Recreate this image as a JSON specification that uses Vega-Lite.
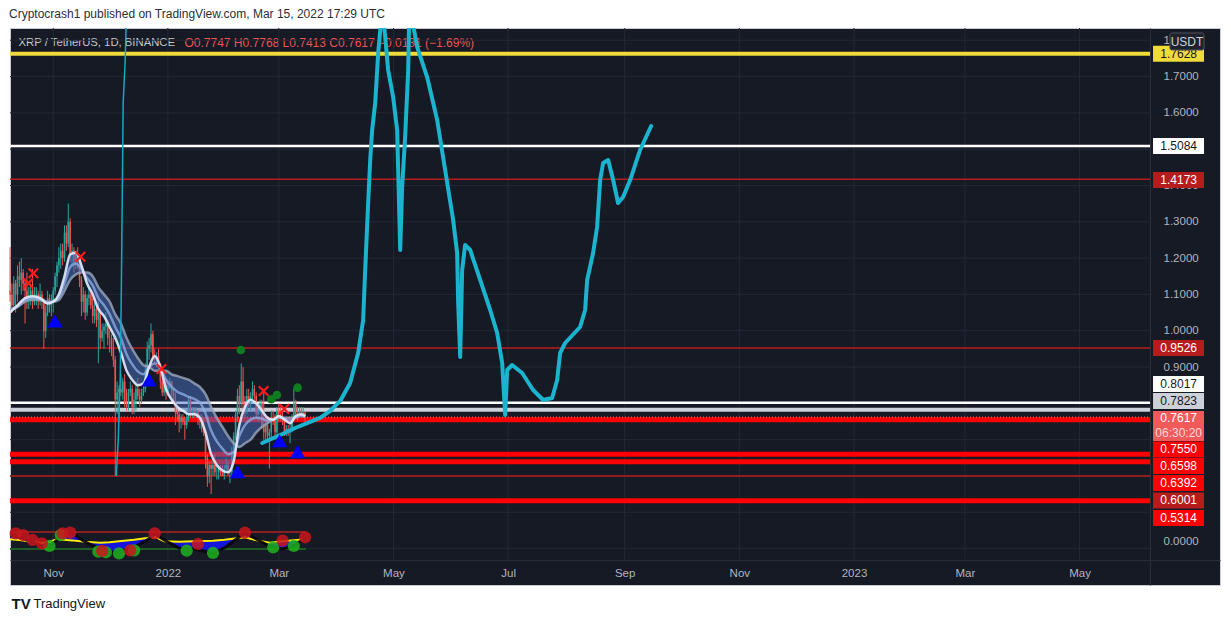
{
"$schema": "https://vega.github.io/schema/vega-lite/v6.json",
"width": 1210,
"height": 557,
"autosize": {"type": "none"},
"padding": {"left": 10, "top": 28, "right": 11, "bottom": 36},
"background": "#ffffff",
"title": {"text": "Cryptocrash1 published on TradingView.com, Mar 15, 2022 17:29 UTC", "anchor": "start", "frame": "group", "offset": 7, "dx": -1, "fontSize": 12, "fontWeight": "normal", "color": "#2a2e39", "font": "Liberation Sans"},
"config": {
  "view": {"fill": "#161a25", "stroke": "#c9ccd3", "strokeWidth": 1},
  "axis": {"grid": false, "labelFont": "Liberation Sans", "titleFont": "Liberation Sans"},
  "text": {"font": "Liberation Sans"},
  "scale": {"continuousPadding": 0}
},
"datasets": {
  "gridx": [
    {"d": "2021-11-01"}, {"d": "2022-01-01"}, {"d": "2022-03-01"}, {"d": "2022-05-01"}, {"d": "2022-07-01"},
    {"d": "2022-09-01"}, {"d": "2022-11-01"}, {"d": "2023-01-01"}, {"d": "2023-03-01"}, {"d": "2023-05-01"}
  ],
  "gridy": [
    {"p": 0.4}, {"p": 0.5}, {"p": 0.6}, {"p": 0.7}, {"p": 0.8}, {"p": 0.9}, {"p": 1.0}, {"p": 1.1},
    {"p": 1.2}, {"p": 1.3}, {"p": 1.4}, {"p": 1.5}, {"p": 1.6}, {"p": 1.7}, {"p": 1.8}
  ],
  "levels": [
    {"p": 1.7628, "kind": "yellow"}, {"p": 1.5084, "kind": "white"}, {"p": 1.4173, "kind": "darkred"},
    {"p": 0.9526, "kind": "darkred"}, {"p": 0.8017, "kind": "white"}, {"p": 0.7823, "kind": "grey"},
    {"p": 0.7550, "kind": "red"}, {"p": 0.6598, "kind": "red"}, {"p": 0.6392, "kind": "red"},
    {"p": 0.6001, "kind": "darkred"}, {"p": 0.5314, "kind": "red"}, {"p": 0.7617, "kind": "price"}
  ],
  "tags": [
    {"label": "1.7628", "tag": 1.7628, "kind": "yellow"},
    {"label": "1.5084", "tag": 1.5084, "kind": "white"},
    {"label": "1.4173", "tag": 1.4150, "kind": "darkred"},
    {"label": "0.9526", "tag": 0.9526, "kind": "darkred"},
    {"label": "0.8017", "tag": 0.8532, "kind": "white"},
    {"label": "0.7823", "tag": 0.8064, "kind": "grey"},
    {"label": "", "tag": 0.7375, "kind": "price"},
    {"label": "0.7550", "tag": 0.6728, "kind": "red"},
    {"label": "0.6598", "tag": 0.6274, "kind": "red"},
    {"label": "0.6392", "tag": 0.5806, "kind": "red"},
    {"label": "0.6001", "tag": 0.5324, "kind": "darkred"},
    {"label": "0.5314", "tag": 0.4842, "kind": "red"}
  ],
  "pricetag": [{"label": "0.7617", "p": 0.7597, "k": "price"}, {"label": "06:30:20", "p": 0.7182, "k": "timer"}],
  "badge": [{"label": "USDT", "p": 1.7965}],
  "candles": [
    {"d":"2021-10-09","o":1.11,"h":1.23,"l":1.08,"c":1.10},
    {"d":"2021-10-10","o":1.10,"h":1.13,"l":1.05,"c":1.07},
    {"d":"2021-10-11","o":1.07,"h":1.15,"l":1.06,"c":1.13},
    {"d":"2021-10-12","o":1.13,"h":1.14,"l":1.05,"c":1.10},
    {"d":"2021-10-13","o":1.10,"h":1.18,"l":1.08,"c":1.15},
    {"d":"2021-10-14","o":1.15,"h":1.19,"l":1.12,"c":1.14},
    {"d":"2021-10-15","o":1.14,"h":1.20,"l":1.10,"c":1.16},
    {"d":"2021-10-16","o":1.16,"h":1.17,"l":1.11,"c":1.13},
    {"d":"2021-10-17","o":1.13,"h":1.14,"l":1.02,"c":1.11},
    {"d":"2021-10-18","o":1.11,"h":1.16,"l":1.06,"c":1.09},
    {"d":"2021-10-19","o":1.09,"h":1.12,"l":1.06,"c":1.09},
    {"d":"2021-10-20","o":1.09,"h":1.13,"l":1.07,"c":1.11},
    {"d":"2021-10-21","o":1.11,"h":1.17,"l":1.06,"c":1.08},
    {"d":"2021-10-22","o":1.08,"h":1.12,"l":1.07,"c":1.09},
    {"d":"2021-10-23","o":1.09,"h":1.12,"l":1.07,"c":1.10},
    {"d":"2021-10-24","o":1.10,"h":1.11,"l":1.06,"c":1.08},
    {"d":"2021-10-25","o":1.08,"h":1.13,"l":1.07,"c":1.10},
    {"d":"2021-10-26","o":1.10,"h":1.11,"l":1.06,"c":1.08},
    {"d":"2021-10-27","o":1.08,"h":1.09,"l":0.95,"c":1.00},
    {"d":"2021-10-28","o":1.00,"h":1.07,"l":0.98,"c":1.05},
    {"d":"2021-10-29","o":1.05,"h":1.11,"l":1.04,"c":1.09},
    {"d":"2021-10-30","o":1.09,"h":1.10,"l":1.05,"c":1.07},
    {"d":"2021-10-31","o":1.07,"h":1.10,"l":1.04,"c":1.08},
    {"d":"2021-11-01","o":1.08,"h":1.12,"l":1.05,"c":1.11},
    {"d":"2021-11-02","o":1.11,"h":1.16,"l":1.10,"c":1.15},
    {"d":"2021-11-03","o":1.15,"h":1.19,"l":1.12,"c":1.18},
    {"d":"2021-11-04","o":1.18,"h":1.23,"l":1.16,"c":1.20},
    {"d":"2021-11-05","o":1.20,"h":1.24,"l":1.17,"c":1.22},
    {"d":"2021-11-06","o":1.22,"h":1.24,"l":1.18,"c":1.20},
    {"d":"2021-11-07","o":1.20,"h":1.29,"l":1.19,"c":1.27},
    {"d":"2021-11-08","o":1.27,"h":1.29,"l":1.22,"c":1.24},
    {"d":"2021-11-09","o":1.24,"h":1.35,"l":1.23,"c":1.30},
    {"d":"2021-11-10","o":1.30,"h":1.31,"l":1.19,"c":1.21},
    {"d":"2021-11-11","o":1.21,"h":1.24,"l":1.18,"c":1.22},
    {"d":"2021-11-12","o":1.22,"h":1.23,"l":1.16,"c":1.19},
    {"d":"2021-11-13","o":1.19,"h":1.22,"l":1.17,"c":1.21},
    {"d":"2021-11-14","o":1.21,"h":1.23,"l":1.17,"c":1.20},
    {"d":"2021-11-15","o":1.20,"h":1.21,"l":1.12,"c":1.14},
    {"d":"2021-11-16","o":1.14,"h":1.15,"l":1.04,"c":1.08},
    {"d":"2021-11-17","o":1.08,"h":1.12,"l":1.05,"c":1.10},
    {"d":"2021-11-18","o":1.10,"h":1.11,"l":1.03,"c":1.05},
    {"d":"2021-11-19","o":1.05,"h":1.10,"l":1.04,"c":1.09},
    {"d":"2021-11-20","o":1.09,"h":1.12,"l":1.07,"c":1.10},
    {"d":"2021-11-21","o":1.10,"h":1.11,"l":1.06,"c":1.07},
    {"d":"2021-11-22","o":1.07,"h":1.09,"l":1.02,"c":1.04},
    {"d":"2021-11-23","o":1.04,"h":1.08,"l":1.02,"c":1.06},
    {"d":"2021-11-24","o":1.06,"h":1.07,"l":1.01,"c":1.03},
    {"d":"2021-11-25","o":1.03,"h":1.08,"l":0.91,"c":1.05},
    {"d":"2021-11-26","o":1.05,"h":1.06,"l":0.95,"c":0.98},
    {"d":"2021-11-27","o":0.98,"h":1.02,"l":0.97,"c":1.00},
    {"d":"2021-11-28","o":1.00,"h":1.02,"l":0.95,"c":1.01},
    {"d":"2021-11-29","o":1.01,"h":1.05,"l":0.99,"c":1.02},
    {"d":"2021-11-30","o":1.02,"h":1.03,"l":0.96,"c":0.98},
    {"d":"2021-12-01","o":0.98,"h":1.00,"l":0.94,"c":0.98},
    {"d":"2021-12-02","o":0.98,"h":0.99,"l":0.93,"c":0.95},
    {"d":"2021-12-03","o":0.95,"h":0.98,"l":0.90,"c":0.92},
    {"d":"2021-12-04","o":0.92,"h":0.93,"l":0.60,"c":0.81},
    {"d":"2021-12-05","o":0.81,"h":0.86,"l":0.77,"c":0.83},
    {"d":"2021-12-06","o":0.83,"h":0.85,"l":0.76,"c":0.84},
    {"d":"2021-12-07","o":0.84,"h":0.88,"l":0.82,"c":0.83},
    {"d":"2021-12-08","o":0.83,"h":0.87,"l":0.81,"c":0.86},
    {"d":"2021-12-09","o":0.86,"h":0.88,"l":0.79,"c":0.80},
    {"d":"2021-12-10","o":0.80,"h":0.84,"l":0.78,"c":0.79},
    {"d":"2021-12-11","o":0.79,"h":0.84,"l":0.78,"c":0.83},
    {"d":"2021-12-12","o":0.83,"h":0.86,"l":0.82,"c":0.84},
    {"d":"2021-12-13","o":0.84,"h":0.85,"l":0.77,"c":0.79},
    {"d":"2021-12-14","o":0.79,"h":0.83,"l":0.77,"c":0.81},
    {"d":"2021-12-15","o":0.81,"h":0.86,"l":0.78,"c":0.84},
    {"d":"2021-12-16","o":0.84,"h":0.87,"l":0.81,"c":0.82},
    {"d":"2021-12-17","o":0.82,"h":0.84,"l":0.79,"c":0.81},
    {"d":"2021-12-18","o":0.81,"h":0.84,"l":0.80,"c":0.83},
    {"d":"2021-12-19","o":0.83,"h":0.86,"l":0.82,"c":0.84},
    {"d":"2021-12-20","o":0.84,"h":0.91,"l":0.83,"c":0.88},
    {"d":"2021-12-21","o":0.88,"h":0.97,"l":0.87,"c":0.95},
    {"d":"2021-12-22","o":0.95,"h":0.98,"l":0.92,"c":0.96},
    {"d":"2021-12-23","o":0.96,"h":1.02,"l":0.94,"c":0.99},
    {"d":"2021-12-24","o":0.99,"h":1.00,"l":0.92,"c":0.93},
    {"d":"2021-12-25","o":0.93,"h":0.95,"l":0.91,"c":0.92},
    {"d":"2021-12-26","o":0.92,"h":0.94,"l":0.90,"c":0.93},
    {"d":"2021-12-27","o":0.93,"h":0.95,"l":0.90,"c":0.91},
    {"d":"2021-12-28","o":0.91,"h":0.91,"l":0.84,"c":0.86},
    {"d":"2021-12-29","o":0.86,"h":0.87,"l":0.82,"c":0.83},
    {"d":"2021-12-30","o":0.83,"h":0.86,"l":0.82,"c":0.85},
    {"d":"2021-12-31","o":0.85,"h":0.87,"l":0.81,"c":0.83},
    {"d":"2022-01-01","o":0.83,"h":0.86,"l":0.82,"c":0.85},
    {"d":"2022-01-02","o":0.85,"h":0.87,"l":0.84,"c":0.86},
    {"d":"2022-01-03","o":0.86,"h":0.86,"l":0.82,"c":0.83},
    {"d":"2022-01-04","o":0.83,"h":0.84,"l":0.80,"c":0.81},
    {"d":"2022-01-05","o":0.81,"h":0.83,"l":0.74,"c":0.78},
    {"d":"2022-01-06","o":0.78,"h":0.79,"l":0.75,"c":0.77},
    {"d":"2022-01-07","o":0.77,"h":0.78,"l":0.72,"c":0.75},
    {"d":"2022-01-08","o":0.75,"h":0.77,"l":0.73,"c":0.76},
    {"d":"2022-01-09","o":0.76,"h":0.77,"l":0.74,"c":0.75},
    {"d":"2022-01-10","o":0.75,"h":0.76,"l":0.70,"c":0.74},
    {"d":"2022-01-11","o":0.74,"h":0.77,"l":0.73,"c":0.76},
    {"d":"2022-01-12","o":0.76,"h":0.82,"l":0.75,"c":0.81},
    {"d":"2022-01-13","o":0.81,"h":0.82,"l":0.76,"c":0.77},
    {"d":"2022-01-14","o":0.77,"h":0.79,"l":0.76,"c":0.78},
    {"d":"2022-01-15","o":0.78,"h":0.79,"l":0.76,"c":0.77},
    {"d":"2022-01-16","o":0.77,"h":0.79,"l":0.76,"c":0.78},
    {"d":"2022-01-17","o":0.78,"h":0.78,"l":0.74,"c":0.76},
    {"d":"2022-01-18","o":0.76,"h":0.77,"l":0.73,"c":0.76},
    {"d":"2022-01-19","o":0.76,"h":0.77,"l":0.72,"c":0.73},
    {"d":"2022-01-20","o":0.73,"h":0.76,"l":0.71,"c":0.72},
    {"d":"2022-01-21","o":0.72,"h":0.72,"l":0.62,"c":0.65},
    {"d":"2022-01-22","o":0.65,"h":0.66,"l":0.57,"c":0.60},
    {"d":"2022-01-23","o":0.60,"h":0.64,"l":0.58,"c":0.63},
    {"d":"2022-01-24","o":0.63,"h":0.64,"l":0.55,"c":0.62},
    {"d":"2022-01-25","o":0.62,"h":0.65,"l":0.60,"c":0.63},
    {"d":"2022-01-26","o":0.63,"h":0.66,"l":0.60,"c":0.61},
    {"d":"2022-01-27","o":0.61,"h":0.63,"l":0.59,"c":0.61},
    {"d":"2022-01-28","o":0.61,"h":0.63,"l":0.59,"c":0.62},
    {"d":"2022-01-29","o":0.62,"h":0.63,"l":0.60,"c":0.61},
    {"d":"2022-01-30","o":0.61,"h":0.63,"l":0.60,"c":0.60},
    {"d":"2022-01-31","o":0.60,"h":0.63,"l":0.59,"c":0.62},
    {"d":"2022-02-01","o":0.62,"h":0.65,"l":0.61,"c":0.63},
    {"d":"2022-02-02","o":0.63,"h":0.64,"l":0.60,"c":0.61},
    {"d":"2022-02-03","o":0.61,"h":0.62,"l":0.58,"c":0.61},
    {"d":"2022-02-04","o":0.61,"h":0.68,"l":0.60,"c":0.67},
    {"d":"2022-02-05","o":0.67,"h":0.72,"l":0.66,"c":0.71},
    {"d":"2022-02-06","o":0.71,"h":0.78,"l":0.70,"c":0.77},
    {"d":"2022-02-07","o":0.77,"h":0.84,"l":0.75,"c":0.82},
    {"d":"2022-02-08","o":0.82,"h":0.85,"l":0.77,"c":0.80},
    {"d":"2022-02-09","o":0.80,"h":0.91,"l":0.79,"c":0.86},
    {"d":"2022-02-10","o":0.86,"h":0.90,"l":0.78,"c":0.80},
    {"d":"2022-02-11","o":0.80,"h":0.82,"l":0.76,"c":0.78},
    {"d":"2022-02-12","o":0.78,"h":0.84,"l":0.77,"c":0.82},
    {"d":"2022-02-13","o":0.82,"h":0.84,"l":0.79,"c":0.81},
    {"d":"2022-02-14","o":0.81,"h":0.83,"l":0.78,"c":0.82},
    {"d":"2022-02-15","o":0.82,"h":0.86,"l":0.81,"c":0.84},
    {"d":"2022-02-16","o":0.84,"h":0.85,"l":0.81,"c":0.82},
    {"d":"2022-02-17","o":0.82,"h":0.83,"l":0.76,"c":0.77},
    {"d":"2022-02-18","o":0.77,"h":0.80,"l":0.75,"c":0.78},
    {"d":"2022-02-19","o":0.78,"h":0.81,"l":0.77,"c":0.80},
    {"d":"2022-02-20","o":0.80,"h":0.81,"l":0.73,"c":0.74},
    {"d":"2022-02-21","o":0.74,"h":0.84,"l":0.70,"c":0.72},
    {"d":"2022-02-22","o":0.72,"h":0.75,"l":0.69,"c":0.74},
    {"d":"2022-02-23","o":0.74,"h":0.76,"l":0.70,"c":0.71},
    {"d":"2022-02-24","o":0.71,"h":0.73,"l":0.62,"c":0.72},
    {"d":"2022-02-25","o":0.72,"h":0.78,"l":0.70,"c":0.76},
    {"d":"2022-02-26","o":0.76,"h":0.78,"l":0.74,"c":0.75},
    {"d":"2022-02-27","o":0.75,"h":0.77,"l":0.70,"c":0.72},
    {"d":"2022-02-28","o":0.72,"h":0.79,"l":0.70,"c":0.78},
    {"d":"2022-03-01","o":0.78,"h":0.80,"l":0.75,"c":0.77},
    {"d":"2022-03-02","o":0.77,"h":0.79,"l":0.75,"c":0.76},
    {"d":"2022-03-03","o":0.76,"h":0.78,"l":0.74,"c":0.75},
    {"d":"2022-03-04","o":0.75,"h":0.76,"l":0.71,"c":0.72},
    {"d":"2022-03-05","o":0.72,"h":0.74,"l":0.71,"c":0.73},
    {"d":"2022-03-06","o":0.73,"h":0.74,"l":0.71,"c":0.72},
    {"d":"2022-03-07","o":0.72,"h":0.75,"l":0.69,"c":0.73},
    {"d":"2022-03-08","o":0.73,"h":0.77,"l":0.72,"c":0.76},
    {"d":"2022-03-09","o":0.76,"h":0.84,"l":0.75,"c":0.80},
    {"d":"2022-03-10","o":0.80,"h":0.81,"l":0.76,"c":0.77},
    {"d":"2022-03-11","o":0.77,"h":0.79,"l":0.75,"c":0.77},
    {"d":"2022-03-12","o":0.77,"h":0.79,"l":0.77,"c":0.78},
    {"d":"2022-03-13","o":0.78,"h":0.79,"l":0.76,"c":0.77},
    {"d":"2022-03-14","o":0.77,"h":0.79,"l":0.76,"c":0.7747},
    {"d":"2022-03-15","o":0.7747,"h":0.7768,"l":0.7413,"c":0.7617}
  ],
  "ribbon": [
    {"d":"2021-10-09","f":1.05,"m":1.055,"s":1.06},
    {"d":"2021-10-13","f":1.07,"m":1.067,"s":1.065},
    {"d":"2021-10-17","f":1.09,"m":1.085,"s":1.08},
    {"d":"2021-10-21","f":1.095,"m":1.09,"s":1.085},
    {"d":"2021-10-25","f":1.09,"m":1.088,"s":1.085},
    {"d":"2021-10-29","f":1.075,"m":1.078,"s":1.08},
    {"d":"2021-11-01","f":1.08,"m":1.08,"s":1.08},
    {"d":"2021-11-04","f":1.10,"m":1.092,"s":1.085},
    {"d":"2021-11-07","f":1.15,"m":1.13,"s":1.11},
    {"d":"2021-11-10","f":1.21,"m":1.175,"s":1.14},
    {"d":"2021-11-13","f":1.215,"m":1.185,"s":1.155},
    {"d":"2021-11-16","f":1.18,"m":1.17,"s":1.16},
    {"d":"2021-11-19","f":1.13,"m":1.145,"s":1.16},
    {"d":"2021-11-22","f":1.10,"m":1.125,"s":1.15},
    {"d":"2021-11-25","f":1.06,"m":1.09,"s":1.12},
    {"d":"2021-11-28","f":1.04,"m":1.07,"s":1.10},
    {"d":"2021-12-01","f":1.01,"m":1.045,"s":1.08},
    {"d":"2021-12-04","f":0.98,"m":1.01,"s":1.045},
    {"d":"2021-12-07","f":0.94,"m":0.98,"s":1.02},
    {"d":"2021-12-10","f":0.89,"m":0.935,"s":0.98},
    {"d":"2021-12-13","f":0.865,"m":0.908,"s":0.95},
    {"d":"2021-12-16","f":0.85,"m":0.888,"s":0.925},
    {"d":"2021-12-19","f":0.855,"m":0.88,"s":0.905},
    {"d":"2021-12-22","f":0.90,"m":0.90,"s":0.90},
    {"d":"2021-12-25","f":0.93,"m":0.91,"s":0.89},
    {"d":"2021-12-28","f":0.90,"m":0.895,"s":0.89},
    {"d":"2021-12-31","f":0.84,"m":0.865,"s":0.89},
    {"d":"2022-01-03","f":0.81,"m":0.845,"s":0.88},
    {"d":"2022-01-06","f":0.79,"m":0.832,"s":0.875},
    {"d":"2022-01-09","f":0.78,"m":0.825,"s":0.87},
    {"d":"2022-01-12","f":0.77,"m":0.818,"s":0.865},
    {"d":"2022-01-15","f":0.77,"m":0.812,"s":0.855},
    {"d":"2022-01-18","f":0.76,"m":0.802,"s":0.845},
    {"d":"2022-01-21","f":0.72,"m":0.772,"s":0.825},
    {"d":"2022-01-24","f":0.66,"m":0.725,"s":0.79},
    {"d":"2022-01-27","f":0.63,"m":0.695,"s":0.76},
    {"d":"2022-01-30","f":0.615,"m":0.675,"s":0.735},
    {"d":"2022-02-02","f":0.61,"m":0.66,"s":0.71},
    {"d":"2022-02-05","f":0.64,"m":0.665,"s":0.69},
    {"d":"2022-02-08","f":0.74,"m":0.71,"s":0.68},
    {"d":"2022-02-11","f":0.79,"m":0.74,"s":0.69},
    {"d":"2022-02-14","f":0.81,"m":0.755,"s":0.70},
    {"d":"2022-02-17","f":0.80,"m":0.76,"s":0.72},
    {"d":"2022-02-20","f":0.78,"m":0.758,"s":0.735},
    {"d":"2022-02-23","f":0.76,"m":0.752,"s":0.745},
    {"d":"2022-02-26","f":0.755,"m":0.755,"s":0.755},
    {"d":"2022-03-01","f":0.765,"m":0.762,"s":0.76},
    {"d":"2022-03-04","f":0.755,"m":0.758,"s":0.76},
    {"d":"2022-03-07","f":0.745,"m":0.752,"s":0.76},
    {"d":"2022-03-10","f":0.765,"m":0.762,"s":0.76},
    {"d":"2022-03-13","f":0.77,"m":0.767,"s":0.765},
    {"d":"2022-03-15","f":0.765,"m":0.764,"s":0.763}
  ],
  "osc": [
    {"d":"2021-10-09","w":0.4373,"s":0.4255},
    {"d":"2021-10-14","w":0.4318,"s":0.4236},
    {"d":"2021-10-21","w":0.4181,"s":0.4189},
    {"d":"2021-10-26","w":0.4071,"s":0.4150},
    {"d":"2021-10-30","w":0.4043,"s":0.4189},
    {"d":"2021-11-03","w":0.4236,"s":0.4255},
    {"d":"2021-11-07","w":0.4401,"s":0.4240},
    {"d":"2021-11-11","w":0.4428,"s":0.4225},
    {"d":"2021-11-18","w":0.4181,"s":0.4189},
    {"d":"2021-11-26","w":0.3988,"s":0.4161},
    {"d":"2021-12-01","w":0.3906,"s":0.4175},
    {"d":"2021-12-06","w":0.3906,"s":0.4200},
    {"d":"2021-12-14","w":0.4043,"s":0.4240},
    {"d":"2021-12-21","w":0.4236,"s":0.4290},
    {"d":"2021-12-25","w":0.4401,"s":0.4327},
    {"d":"2021-12-30","w":0.4236,"s":0.4200},
    {"d":"2022-01-07","w":0.4016,"s":0.4189},
    {"d":"2022-01-15","w":0.3988,"s":0.4200},
    {"d":"2022-01-25","w":0.3878,"s":0.4217},
    {"d":"2022-01-31","w":0.4016,"s":0.4240},
    {"d":"2022-02-08","w":0.4318,"s":0.4290},
    {"d":"2022-02-11","w":0.4428,"s":0.4310},
    {"d":"2022-02-16","w":0.4290,"s":0.4240},
    {"d":"2022-02-24","w":0.4071,"s":0.4160},
    {"d":"2022-03-03","w":0.3988,"s":0.4200},
    {"d":"2022-03-09","w":0.4071,"s":0.4230},
    {"d":"2022-03-15","w":0.4290,"s":0.4255}
  ],
  "oscbands": [{"p": 0.4456, "k": "top"}, {"p": 0.3988, "k": "bottom"}],
  "circles": [
    {"d":"2021-10-30","p":0.4071,"k":"green"},
    {"d":"2021-11-05","p":0.4373,"k":"green"},
    {"d":"2021-11-25","p":0.3915,"k":"green"},
    {"d":"2021-11-29","p":0.3897,"k":"green"},
    {"d":"2021-12-06","p":0.3869,"k":"green"},
    {"d":"2021-12-14","p":0.3951,"k":"green"},
    {"d":"2022-01-11","p":0.3942,"k":"green"},
    {"d":"2022-01-25","p":0.3878,"k":"green"},
    {"d":"2022-02-26","p":0.4034,"k":"green"},
    {"d":"2022-03-09","p":0.4071,"k":"green"},
    {"d":"2021-10-12","p":0.4420,"k":"red"},
    {"d":"2021-10-16","p":0.4373,"k":"red"},
    {"d":"2021-10-21","p":0.4236,"k":"red"},
    {"d":"2021-10-26","p":0.4145,"k":"red"},
    {"d":"2021-11-06","p":0.4420,"k":"red"},
    {"d":"2021-11-10","p":0.4438,"k":"red"},
    {"d":"2021-11-27","p":0.3933,"k":"red"},
    {"d":"2021-12-12","p":0.3951,"k":"red"},
    {"d":"2021-12-25","p":0.4420,"k":"red"},
    {"d":"2022-01-17","p":0.4126,"k":"red"},
    {"d":"2022-02-11","p":0.4438,"k":"red"},
    {"d":"2022-03-03","p":0.4217,"k":"red"},
    {"d":"2022-03-15","p":0.4310,"k":"red"}
  ],
  "signals": [
    {"d":"2021-10-18T17:00Z","p":1.1305,"k":"x"},
    {"d":"2021-10-21T10:00Z","p":1.158,"k":"x"},
    {"d":"2021-11-15T12:00Z","p":1.2038,"k":"x"},
    {"d":"2021-12-28T14:00Z","p":0.8945,"k":"x"},
    {"d":"2022-02-20T22:00Z","p":0.834,"k":"x"},
    {"d":"2022-03-03T22:00Z","p":0.7844,"k":"x"},
    {"d":"2021-11-01T22:00Z","p":1.0267,"k":"tri"},
    {"d":"2021-12-22T00:00Z","p":0.8642,"k":"tri"},
    {"d":"2022-02-07T00:00Z","p":0.6117,"k":"tri"},
    {"d":"2022-03-01T10:00Z","p":0.697,"k":"tri"},
    {"d":"2022-03-11T00:00Z","p":0.6668,"k":"tri"},
    {"d":"2022-02-08T19:00Z","p":0.9468,"k":"dot"},
    {"d":"2022-02-25T00:00Z","p":0.8111,"k":"dot"},
    {"d":"2022-02-28T00:00Z","p":0.8229,"k":"dot"},
    {"d":"2022-03-11T00:00Z","p":0.843,"k":"dot"}
  ],
  "thin": [
    {"i":1,"d":"2021-12-04T12:00Z","p":0.5999},
    {"i":2,"d":"2021-12-05T14:00Z","p":0.6990},
    {"i":3,"d":"2021-12-06T15:00Z","p":0.8643},
    {"i":4,"d":"2021-12-07T04:00Z","p":1.0846},
    {"i":5,"d":"2021-12-07T17:00Z","p":1.3600},
    {"i":6,"d":"2021-12-08T05:00Z","p":1.6269},
    {"i":7,"d":"2021-12-09T07:00Z","p":1.7454},
    {"i":8,"d":"2021-12-09T20:00Z","p":1.8557}
  ],
  "path": [
    {"i":1,"d":"2022-02-20T04:00Z","p":0.6907},
    {"i":2,"d":"2022-03-01T18:00Z","p":0.7127},
    {"i":3,"d":"2022-03-09T17:00Z","p":0.7320},
    {"i":4,"d":"2022-03-17T17:00Z","p":0.7488},
    {"i":5,"d":"2022-03-23T00:00Z","p":0.7598},
    {"i":6,"d":"2022-03-28T08:00Z","p":0.7791},
    {"i":7,"d":"2022-04-02T16:00Z","p":0.8066},
    {"i":8,"d":"2022-04-07T23:00Z","p":0.8560},
    {"i":9,"d":"2022-04-12T05:00Z","p":0.9383},
    {"i":10,"d":"2022-04-14T21:00Z","p":1.0295},
    {"i":11,"d":"2022-04-15T23:00Z","p":1.1672},
    {"i":12,"d":"2022-04-17T13:00Z","p":1.3517},
    {"i":13,"d":"2022-04-18T15:00Z","p":1.4701},
    {"i":14,"d":"2022-04-19T16:00Z","p":1.5528},
    {"i":15,"d":"2022-04-21T07:00Z","p":1.6271},
    {"i":16,"d":"2022-04-22T21:00Z","p":1.7648},
    {"i":17,"d":"2022-04-24T11:00Z","p":1.8557},
    {"i":18,"d":"2022-04-26T01:00Z","p":1.8420},
    {"i":19,"d":"2022-04-28T04:00Z","p":1.7180},
    {"i":20,"d":"2022-04-30T20:00Z","p":1.6434},
    {"i":21,"d":"2022-05-02T23:00Z","p":1.5528},
    {"i":22,"d":"2022-05-03T12:00Z","p":1.4426},
    {"i":23,"d":"2022-05-04T14:00Z","p":1.2223},
    {"i":24,"d":"2022-05-05T15:00Z","p":1.3958},
    {"i":25,"d":"2022-05-07T05:00Z","p":1.5335},
    {"i":26,"d":"2022-05-08T20:00Z","p":1.7180},
    {"i":27,"d":"2022-05-09T08:00Z","p":1.8557},
    {"i":28,"d":"2022-05-10T23:00Z","p":1.8557},
    {"i":29,"d":"2022-05-13T15:00Z","p":1.7813},
    {"i":30,"d":"2022-05-18T22:00Z","p":1.6987},
    {"i":31,"d":"2022-05-24T06:00Z","p":1.5803},
    {"i":32,"d":"2022-05-28T12:00Z","p":1.4426},
    {"i":33,"d":"2022-06-01T18:00Z","p":1.3049},
    {"i":34,"d":"2022-06-03T21:00Z","p":1.2140},
    {"i":35,"d":"2022-06-04T10:00Z","p":1.0763},
    {"i":36,"d":"2022-06-05T12:00Z","p":0.9276},
    {"i":37,"d":"2022-06-06T13:00Z","p":1.1672},
    {"i":38,"d":"2022-06-08T03:00Z","p":1.2360},
    {"i":39,"d":"2022-06-10T19:00Z","p":1.2223},
    {"i":40,"d":"2022-06-16T03:00Z","p":1.1397},
    {"i":41,"d":"2022-06-21T11:00Z","p":1.0570},
    {"i":42,"d":"2022-06-25T04:00Z","p":0.9937},
    {"i":43,"d":"2022-06-27T20:00Z","p":0.9111},
    {"i":44,"d":"2022-06-29T10:00Z","p":0.7679},
    {"i":45,"d":"2022-06-30T12:00Z","p":0.8918},
    {"i":46,"d":"2022-07-03T03:00Z","p":0.9055},
    {"i":47,"d":"2022-07-08T11:00Z","p":0.8835},
    {"i":48,"d":"2022-07-14T07:00Z","p":0.8367},
    {"i":49,"d":"2022-07-19T15:00Z","p":0.8092},
    {"i":50,"d":"2022-07-24T10:00Z","p":0.8147},
    {"i":51,"d":"2022-07-27T02:00Z","p":0.8642},
    {"i":52,"d":"2022-07-28T16:00Z","p":0.9386},
    {"i":53,"d":"2022-07-31T08:00Z","p":0.9661},
    {"i":54,"d":"2022-08-08T07:00Z","p":1.0102},
    {"i":55,"d":"2022-08-10T23:00Z","p":1.0570},
    {"i":56,"d":"2022-08-12T01:00Z","p":1.1396},
    {"i":57,"d":"2022-08-15T05:00Z","p":1.2140},
    {"i":58,"d":"2022-08-17T08:00Z","p":1.2856},
    {"i":59,"d":"2022-08-18T23:00Z","p":1.4150},
    {"i":60,"d":"2022-08-20T13:00Z","p":1.4619},
    {"i":61,"d":"2022-08-23T05:00Z","p":1.4701},
    {"i":62,"d":"2022-08-25T21:00Z","p":1.4150},
    {"i":63,"d":"2022-08-28T12:00Z","p":1.3517},
    {"i":64,"d":"2022-08-31T04:00Z","p":1.3682},
    {"i":65,"d":"2022-09-03T22:00Z","p":1.4150},
    {"i":66,"d":"2022-09-09T05:00Z","p":1.4977},
    {"i":67,"d":"2022-09-15T02:00Z","p":1.5638}
  ]
},
"layer": [
  {
    "data": {"name": "gridx"},
    "mark": {"type": "rule", "color": "#232835", "strokeWidth": 1},
    "encoding": {
      "x": {"field": "d", "type": "temporal",
        "scale": {"type": "utc", "nice": false, "padding": 0, "domain": [{"year": 2021, "month": 10, "date": 9, "utc": true}, {"year": 2023, "month": 7, "date": 14, "hours": 17, "utc": true}]},
        "axis": {"orient": "bottom", "offset": -25, "grid": false, "ticks": false, "tickSize": 0, "labelPadding": 13, "labelBaseline": "middle", "labelAlign": "center",
          "labelColor": "#b2b5be", "labelFontSize": 11.5, "labelOverlap": false, "labelFlush": false, "domainColor": "#2a2e39",
          "values": [{"year": 2021, "month": 11, "date": 1, "utc": true}, {"year": 2022, "month": 1, "date": 1, "utc": true}, {"year": 2022, "month": 3, "date": 1, "utc": true}, {"year": 2022, "month": 5, "date": 1, "utc": true}, {"year": 2022, "month": 7, "date": 1, "utc": true}, {"year": 2022, "month": 9, "date": 1, "utc": true}, {"year": 2022, "month": 11, "date": 1, "utc": true}, {"year": 2023, "month": 1, "date": 1, "utc": true}, {"year": 2023, "month": 3, "date": 1, "utc": true}, {"year": 2023, "month": 5, "date": 1, "utc": true}],
          "labelExpr": "utcFormat(datum.value, '%m') == '01' ? utcFormat(datum.value, '%Y') : utcFormat(datum.value, '%b')",
          "title": "TradingView", "titleX": 23, "titleY": 43, "titleAlign": "left", "titleBaseline": "middle", "titleAngle": 0,
          "titleColor": "#131722", "titleFontSize": 13, "titleFontWeight": "normal"}},
      "y": {"datum": 1.8337, "type": "quantitative", "scale": {"domain": [0.2996, 1.8337], "nice": false, "zero": false, "padding": 0}, "axis": null},
      "y2": {"datum": 0.3685}
    }
  },
  {
    "data": {"name": "gridy"},
    "mark": {"type": "rule", "color": "#232835", "strokeWidth": 1},
    "encoding": {
      "y": {"field": "p", "type": "quantitative",
        "scale": {"domain": [0.2996, 1.8337], "nice": false, "zero": false, "padding": 0},
        "axis": {"orient": "right", "offset": -70, "grid": false, "ticks": false, "tickSize": 0, "labelPadding": 13, "labelAlign": "left", "labelBaseline": "middle",
          "labelColor": "#b2b5be", "labelFontSize": 11.5, "labelOverlap": false, "labelFlush": false, "domainColor": "#2a2e39",
          "values": [1.8, 1.7, 1.6, 1.4, 1.3, 1.2, 1.1, 1.0, 0.9, 0.4189],
          "labelExpr": "datum.value < 0.45 ? '0.0000' : format(datum.value, '.4f')",
          "title": "TV", "titleX": -1139, "titleY": 575, "titleAlign": "left", "titleBaseline": "middle", "titleAngle": 0,
          "titleColor": "#131722", "titleFontSize": 15, "titleFontWeight": 900}},
      "x": {"datum": {"year": 2021, "month": 10, "date": 9, "utc": true}, "type": "temporal",
        "scale": {"type": "utc", "nice": false, "padding": 0, "domain": [{"year": 2021, "month": 10, "date": 9, "utc": true}, {"year": 2023, "month": 7, "date": 14, "hours": 17, "utc": true}]}, "axis": null},
      "x2": {"datum": {"year": 2023, "month": 6, "date": 7, "hours": 12, "utc": true}}
    }
  },
  {
    "data": {"name": "levels"},
    "transform": [{"filter": "datum.kind != 'price'"}],
    "mark": {"type": "rule"},
    "encoding": {
      "y": {"field": "p", "type": "quantitative", "axis": null},
      "x": {"datum": {"year": 2021, "month": 10, "date": 9, "utc": true}, "type": "temporal", "axis": null},
      "x2": {"datum": {"year": 2023, "month": 6, "date": 7, "hours": 12, "utc": true}},
      "color": {"field": "kind", "type": "nominal", "legend": null,
        "scale": {"domain": ["yellow", "white", "grey", "darkred", "red", "price"], "range": ["#efdc3b", "#ffffff", "#cdd0d8", "#b71c1c", "#ff0000", "#f05a5a"]}},
      "strokeWidth": {"field": "kind", "type": "nominal", "legend": null,
        "scale": {"type": "ordinal", "domain": ["yellow", "white", "grey", "darkred", "red"], "range": [4, 2.5, 4, 1.5, 5]}}
    }
  },
  {
    "data": {"name": "levels"},
    "transform": [{"filter": "datum.kind == 'price'"}],
    "mark": {"type": "rule", "color": "#ff4d4d", "strokeWidth": 1.5, "strokeDash": [1, 2]},
    "encoding": {
      "y": {"field": "p", "type": "quantitative", "axis": null},
      "x": {"datum": {"year": 2021, "month": 10, "date": 9, "utc": true}, "type": "temporal", "axis": null},
      "x2": {"datum": {"year": 2023, "month": 6, "date": 7, "hours": 12, "utc": true}}
    }
  },
  {
    "data": {"name": "oscbands"},
    "mark": {"type": "rule", "strokeWidth": 2},
    "encoding": {
      "y": {"field": "p", "type": "quantitative", "axis": null},
      "x": {"datum": {"year": 2021, "month": 10, "date": 9, "utc": true}, "type": "temporal", "axis": null},
      "x2": {"datum": {"year": 2022, "month": 3, "date": 15, "hours": 12, "utc": true}},
      "color": {"condition": {"test": "datum.k == 'top'", "value": "#8a1f1f"}, "value": "#1e5e22"}
    }
  },
  {
    "data": {"name": "candles"},
    "mark": {"type": "rule", "strokeWidth": 1},
    "encoding": {
      "x": {"field": "d", "type": "temporal",
        "axis": {"orient": "top", "offset": 0, "labels": false, "ticks": false, "domain": false, "grid": false,
          "title": "O0.7747 H0.7768 L0.7413 C0.7617 \u22120.0131 (\u22121.69%)", "titleX": 174, "titleY": 14, "titleAlign": "left", "titleBaseline": "middle", "titleAngle": 0,
          "titleColor": "#ef5350", "titleFontSize": 12, "titleFontWeight": "normal"}},
      "y": {"field": "l", "type": "quantitative",
        "axis": {"orient": "left", "offset": 0, "labels": false, "ticks": false, "domain": false, "grid": false,
          "title": "XRP / TetherUS, 1D, BINANCE", "titleX": 8, "titleY": 14, "titleAlign": "left", "titleBaseline": "middle", "titleAngle": 0,
          "titleColor": "#c3c6ce", "titleFontSize": 11.3, "titleFontWeight": "normal"}},
      "y2": {"field": "h"},
      "color": {"condition": {"test": "datum.c >= datum.o", "value": "#26a69a"}, "value": "#ef5350"}
    }
  },
  {
    "data": {"name": "candles"},
    "mark": {"type": "bar", "width": 1.6},
    "encoding": {
      "x": {"field": "d", "type": "temporal", "axis": null},
      "y": {"field": "o", "type": "quantitative", "axis": null},
      "y2": {"field": "c"},
      "color": {"condition": {"test": "datum.c >= datum.o", "value": "#26a69a"}, "value": "#ef5350"}
    }
  },
  {
    "data": {"name": "ribbon"},
    "mark": {"type": "area", "color": "#4a72c4", "opacity": 0.5, "interpolate": "monotone"},
    "encoding": {
      "x": {"field": "d", "type": "temporal", "axis": null},
      "y": {"field": "f", "type": "quantitative", "axis": null},
      "y2": {"field": "s"}
    }
  },
  {
    "data": {"name": "ribbon"},
    "mark": {"type": "line", "color": "#9aa6bd", "strokeWidth": 2.5, "opacity": 0.8, "interpolate": "monotone"},
    "encoding": {
      "x": {"field": "d", "type": "temporal", "axis": null},
      "y": {"field": "s", "type": "quantitative", "axis": null}
    }
  },
  {
    "data": {"name": "ribbon"},
    "mark": {"type": "line", "color": "#8fb0ea", "strokeWidth": 2.5, "opacity": 0.75, "interpolate": "monotone"},
    "encoding": {
      "x": {"field": "d", "type": "temporal", "axis": null},
      "y": {"field": "m", "type": "quantitative", "axis": null}
    }
  },
  {
    "data": {"name": "ribbon"},
    "mark": {"type": "line", "color": "#e3ecff", "strokeWidth": 2.5, "opacity": 0.9, "interpolate": "monotone"},
    "encoding": {
      "x": {"field": "d", "type": "temporal", "axis": null},
      "y": {"field": "f", "type": "quantitative", "axis": null}
    }
  },
  {
    "data": {"name": "osc"},
    "mark": {"type": "area", "color": "#1414e6", "opacity": 0.95},
    "encoding": {
      "x": {"field": "d", "type": "temporal", "axis": null},
      "y": {"field": "w", "type": "quantitative", "axis": null},
      "y2": {"field": "s"}
    }
  },
  {
    "data": {"name": "osc"},
    "mark": {"type": "line", "color": "#ffee00", "strokeWidth": 2},
    "encoding": {
      "x": {"field": "d", "type": "temporal", "axis": null},
      "y": {"field": "s", "type": "quantitative", "axis": null}
    }
  },
  {
    "data": {"name": "osc"},
    "mark": {"type": "line", "color": "#050505", "strokeWidth": 3, "opacity": 0.9},
    "encoding": {
      "x": {"field": "d", "type": "temporal", "axis": null},
      "y": {"field": "w", "type": "quantitative", "axis": null}
    }
  },
  {
    "data": {"name": "circles"},
    "mark": {"type": "point", "shape": "circle", "filled": true, "size": 150, "opacity": 0.85},
    "encoding": {
      "x": {"field": "d", "type": "temporal", "axis": null},
      "y": {"field": "p", "type": "quantitative", "axis": null},
      "color": {"condition": {"test": "datum.k == 'red'", "value": "#c8161c"}, "value": "#1fb21f"}
    }
  },
  {
    "data": {"name": "thin"},
    "mark": {"type": "line", "color": "#13a9c2", "strokeWidth": 1.5, "clip": true},
    "encoding": {
      "x": {"field": "d", "type": "temporal", "axis": null},
      "y": {"field": "p", "type": "quantitative", "axis": null},
      "order": {"field": "i"}
    }
  },
  {
    "data": {"name": "path"},
    "mark": {"type": "line", "color": "#1bb4cf", "strokeWidth": 4, "clip": true, "strokeJoin": "round", "strokeCap": "round"},
    "encoding": {
      "x": {"field": "d", "type": "temporal", "axis": null},
      "y": {"field": "p", "type": "quantitative", "axis": null},
      "order": {"field": "i"}
    }
  },
  {
    "data": {"name": "signals"},
    "transform": [{"filter": "datum.k == 'x'"}],
    "mark": {"type": "point", "shape": "M-1,-1L1,1M-1,1L1,-1", "filled": false, "stroke": "#ff1a1a", "strokeWidth": 2.2, "size": 90, "opacity": 1},
    "encoding": {
      "x": {"field": "d", "type": "temporal", "axis": null},
      "y": {"field": "p", "type": "quantitative", "axis": null}
    }
  },
  {
    "data": {"name": "signals"},
    "transform": [{"filter": "datum.k == 'tri'"}],
    "mark": {"type": "point", "shape": "triangle-up", "filled": true, "color": "#0000ff", "size": 230, "opacity": 1},
    "encoding": {
      "x": {"field": "d", "type": "temporal", "axis": null},
      "y": {"field": "p", "type": "quantitative", "axis": null}
    }
  },
  {
    "data": {"name": "signals"},
    "transform": [{"filter": "datum.k == 'dot'"}],
    "mark": {"type": "point", "shape": "circle", "filled": true, "color": "#0f7d1f", "size": 75, "opacity": 1},
    "encoding": {
      "x": {"field": "d", "type": "temporal", "axis": null},
      "y": {"field": "p", "type": "quantitative", "axis": null}
    }
  },
  {
    "data": {"name": "tags"},
    "transform": [{"filter": "datum.kind != 'price'"}],
    "mark": {"type": "bar", "orient": "horizontal", "height": 16},
    "encoding": {
      "y": {"field": "tag", "type": "quantitative", "axis": null},
      "x": {"datum": {"year": 2023, "month": 6, "date": 9, "hours": 2, "utc": true}, "type": "temporal", "axis": null},
      "x2": {"datum": {"year": 2023, "month": 7, "date": 6, "hours": 5, "utc": true}},
      "color": {"field": "kind", "type": "nominal", "legend": null,
        "scale": {"domain": ["yellow", "white", "grey", "darkred", "red", "price"], "range": ["#efdc3b", "#ffffff", "#cdd0d8", "#b71c1c", "#ff0000", "#f05a5a"]}}
    }
  },
  {
    "data": {"name": "tags"},
    "transform": [{"filter": "datum.kind == 'price'"}],
    "mark": {"type": "bar", "orient": "horizontal", "height": 30, "color": "#f05a5a"},
    "encoding": {
      "y": {"field": "tag", "type": "quantitative", "axis": null},
      "x": {"datum": {"year": 2023, "month": 6, "date": 9, "hours": 2, "utc": true}, "type": "temporal", "axis": null},
      "x2": {"datum": {"year": 2023, "month": 7, "date": 6, "hours": 5, "utc": true}}
    }
  },
  {
    "data": {"name": "tags"},
    "transform": [{"filter": "datum.kind != 'price'"}],
    "mark": {"type": "text", "fontSize": 12, "align": "center", "baseline": "middle"},
    "encoding": {
      "y": {"field": "tag", "type": "quantitative", "axis": null},
      "x": {"datum": {"year": 2023, "month": 6, "date": 22, "hours": 17, "utc": true}, "type": "temporal", "axis": null},
      "text": {"field": "label"},
      "color": {"condition": {"test": "indexof(['yellow','white','grey'], datum.kind) >= 0", "value": "#131722"}, "value": "#ffffff"}
    }
  },
  {
    "data": {"name": "pricetag"},
    "mark": {"type": "text", "fontSize": 12, "align": "center", "baseline": "middle"},
    "encoding": {
      "y": {"field": "p", "type": "quantitative", "axis": null},
      "x": {"datum": {"year": 2023, "month": 6, "date": 22, "hours": 17, "utc": true}, "type": "temporal", "axis": null},
      "text": {"field": "label"},
      "color": {"condition": {"test": "datum.k == 'price'", "value": "#ffffff"}, "value": "#ffd9d9"}
    }
  },
  {
    "data": {"name": "badge"},
    "mark": {"type": "bar", "orient": "horizontal", "height": 17, "color": "#1e222d", "stroke": "#50535e", "strokeWidth": 1, "cornerRadius": 2},
    "encoding": {
      "y": {"field": "p", "type": "quantitative", "axis": null},
      "x": {"datum": {"year": 2023, "month": 6, "date": 18, "hours": 2, "utc": true}, "type": "temporal", "axis": null},
      "x2": {"datum": {"year": 2023, "month": 7, "date": 6, "hours": 5, "utc": true}}
    }
  },
  {
    "data": {"name": "badge"},
    "mark": {"type": "text", "fontSize": 12, "align": "center", "baseline": "middle", "color": "#d1d4dc"},
    "encoding": {
      "y": {"field": "p", "type": "quantitative", "axis": null},
      "x": {"datum": {"year": 2023, "month": 6, "date": 27, "hours": 4, "utc": true}, "type": "temporal", "axis": null},
      "text": {"field": "label"}
    }
  }
]
}
